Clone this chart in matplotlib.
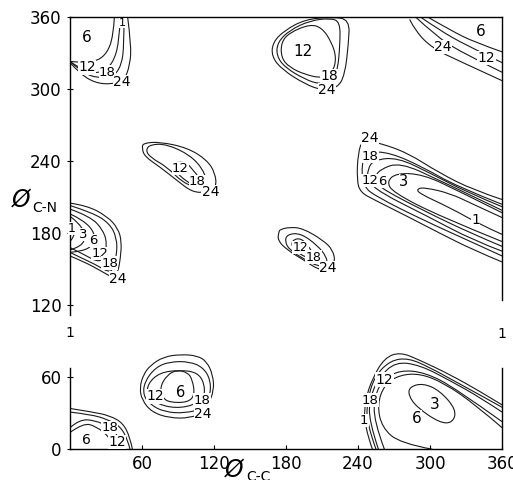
import numpy as np
import matplotlib.pyplot as plt
from matplotlib.path import Path
from matplotlib.patches import PathPatch

# contour lines, points are (phi C-C, phi C-N) in degrees
# top left corner
tl_6 = [(37,360),(36,344),(31,330),(22,323),(11,322),(0,323)]
tl_12 = [(42,360),(41,341),(37,324),(29,315),(18,313),(7,318),(0,323)]
tl_18 = [(45,360),(45,337),(43,320),(36,310),(23,309),(10,314),(0,323)]
tl_24 = [(48,360),(51,337),(50,320),(45,307),(35,304),(21,305),(8,313),(0,322)]

# top middle
tm_12 = [(200,354),(183,347),(176,339),(176,326),(183,318),(196,312),(210,309),(219,314),(222,326),(218,339),(210,351),(200,354)]
tm_18 = [(225,356),(225,337),(223,316),(219,306),(208,304),(196,308),(179,318),(172,328),(173,339),(183,349),(200,357),(217,359),(225,356)]
tm_24 = [(233,358),(232,337),(229,312),(223,301),(210,299),(196,304),(177,316),(168,327),(169,339),(179,349),(196,358),(218,360),(233,358)]

# top right corner
tr_6 = [(298,360),(317,349),(337,339),(360,331)]
tr_12 = [(292,360),(308,349),(329,337),(360,322)]
tr_18 = [(288,360),(304,345),(325,331),(360,314)]
tr_24 = [(283,358),(288,348),(302,334),(325,323),(360,307)]

# left edge, around (0, 180)
le_1 = [(0,189),(4,184),(4,178),(0,173)]
le_3 = [(0,194),(8,188),(13,178),(10,169),(0,166)]
le_6 = [(0,196),(11,191),(21,180),(19,170),(11,165),(0,164)]
le_12 = [(0,200),(17,194),(28,182),(31,170),(28,159),(23,156),(12,162),(0,168)]
le_18 = [(0,203),(19,197),(33,188),(39,176),(39,162),(36,151),(33,147),(21,154),(8,160),(0,164)]
le_24 = [(0,205),(14,203),(31,194),(40,184),(43,173),(42,159),(40,148),(37,142),(25,149),(12,156),(0,161)]

# island near (100, 235)
ml_12 = [(87,239),(97,239),(102,233),(108,226),(108,219),(102,220),(92,227),(86,234),(87,239)]
ml_18 = [(67,254),(81,254),(100,245),(111,233),(114,222),(106,218),(94,222),(81,235),(67,243),(63,249),(67,254)]
ml_24 = [(61,255),(75,256),(98,251),(114,241),(121,230),(122,218),(114,214),(102,214),(89,224),(75,235),(62,244),(60,251),(61,255)]

# island near (195, 165)
mc_12 = [(185,174),(192,176),(198,170),(202,164),(200,159),(192,162),(185,168),(185,174)]
mc_18 = [(181,179),(192,180),(206,170),(214,160),(214,154),(207,152),(194,159),(183,166),(179,173),(181,179)]
mc_24 = [(175,183),(183,185),(194,184),(211,174),(219,166),(221,156),(217,149),(208,149),(194,158),(181,166),(173,174),(174,181),(175,183)]

# long valley on the right
rv_1 = [(360,193),(336,204),(317,213),(296,218),(289,217),(291,213),(317,201),(342,187),(360,179)]
rv_3 = [(360,197),(322,216),(294,229),(272,230),(264,223),(269,214),(308,194),(360,173)]
rv_6 = [(360,199),(308,224),(275,239),(258,233),(254,226),(256,219),(294,199),(336,179),(360,169)]
rv_12 = [(360,202),(331,214),(300,230),(273,243),(253,241),(248,233),(248,224),(258,214),(298,194),(336,174),(360,165)]
rv_18 = [(360,204),(322,219),(294,235),(267,247),(248,248),(243,239),(244,219),(256,210),(294,191),(336,172),(360,161)]
rv_24 = [(360,208),(336,216),(308,230),(281,247),(258,255),(244,258),(240,247),(239,224),(242,214),(253,208),(281,194),(308,180),(336,166),(360,156)]

# bottom left corner
bl_6 = [(0,14),(11,22),(22,19),(33,10),(40,0)]
bl_12 = [(0,18),(8,25),(21,24),(32,19),(39,14),(44,0)]
bl_18 = [(0,31),(17,29),(31,25),(42,19),(48,8),(50,0)]
bl_24 = [(0,34),(19,31),(33,28),(44,22),(50,10),(52,0)]

# island near (90, 50)
bm_6 = [(81,62),(89,66),(98,64),(102,58),(104,45),(98,39),(83,39),(77,43),(75,52),(81,62)]
bm_12 = [(75,64),(92,66),(106,64),(112,55),(112,43),(104,37),(88,34),(72,38),(64,45),(65,55),(75,64)]
bm_18 = [(71,68),(83,73),(100,73),(111,68),(117,58),(117,45),(111,34),(96,30),(79,31),(67,37),(61,45),(62,56),(71,68)]
bm_24 = [(67,70),(78,77),(92,79),(106,78),(114,73),(119,62),(120,49),(115,37),(112,31),(100,26),(83,26),(68,31),(60,41),(58,51),(61,62),(67,70)]

# bottom right
br_3 = [(283,52),(294,55),(308,49),(322,33),(319,22),(308,22),(289,35),(282,45),(283,52)]
br_6 = [(302,0),(275,5),(260,18),(256,37),(262,54),(275,62),(292,63),(312,55),(338,37),(360,18)]
br_12 = [(262,0),(253,24),(254,45),(261,58),(275,66),(296,64),(321,51),(360,23)]
br_18 = [(257,0),(249,24),(250,43),(257,59),(271,73),(292,70),(317,57),(342,43),(360,31)]
br_24 = [(255,0),(247,22),(248,42),(254,61),(267,74),(282,76),(300,68),(320,57),(342,45),(360,35)]
br_1 = [(252,0),(245,20),(246,41),(252,59),(262,76),(275,81),(292,74),(317,62),(342,48),(360,37)]

lines = [tl_6, tl_12, tl_18, tl_24, tm_12, tm_18, tm_24, tr_6, tr_12, tr_18, tr_24,
         le_1, le_3, le_6, le_12, le_18, le_24, ml_12, ml_18, ml_24, mc_12, mc_18, mc_24,
         rv_1, rv_3, rv_6, rv_12, rv_18, rv_24, bl_6, bl_12, bl_18, bl_24,
         bm_6, bm_12, bm_18, bm_24, br_3, br_6, br_12, br_18, br_24, br_1]

# contour labels
lab_txt = ["6", "12", "18", "24", "1",
           "12", "18", "24",
           "6", "24", "12",
           "1", "3", "6", "12", "18", "24",
           "12", "18", "24",
           "12", "18", "24",
           "24", "18", "12", "6", "3", "1",
           "6", "18", "12",
           "12", "6", "18", "24",
           "3", "6", "12", "18", "1",
           "1", "1"]
lab_x = [14, 14, 31, 43, 44,
         194, 216, 214,
         342, 311, 347,
         1.5, 11, 19, 25, 33, 40,
         92, 106, 117,
         192, 203, 215,
         250, 250, 250, 260, 278, 338,
         14, 33, 39,
         71, 92, 110, 111,
         304, 289, 262, 250, 245,
         0, 360]
lab_y = [343, 318, 314, 306, 355,
         331, 311, 299,
         348, 335, 326,
         184, 179, 174, 163, 155, 142,
         234, 223, 214,
         168, 160, 151,
         259, 244, 224, 223, 223, 191,
         8, 18, 6,
         44, 47, 41, 29,
         37, 26, 58, 41, 24,
         97, 96]
lab_size = [11, 10, 9.5, 10, 8,
            11, 10, 10,
            11, 10, 10,
            9, 9.5, 9.5, 9.5, 9.5, 10,
            9.5, 9.5, 10,
            9, 9, 10,
            10, 9.5, 9.5, 9.5, 10.5, 10,
            10, 9.5, 10,
            10, 10.5, 9.5, 10,
            11, 11, 10, 9.5, 9.5,
            10, 10]

x_ticks = [60, 120, 180, 240, 300, 360]
y_ticks = [0, 60, 120, 180, 240, 300, 360]


def smooth(pts):
    # quadratic bezier through the midpoints, the read points act as control points
    p = np.array(pts, float)
    if np.allclose(p[0], p[-1]):
        p = p[:-1]
        mid = (p + np.roll(p, -1, axis=0)) / 2
        verts = [mid[-1]]
        codes = [Path.MOVETO]
        for a, m in zip(p, mid):
            verts += [a, m]
            codes += [Path.CURVE3, Path.CURVE3]
    else:
        verts = [p[0]]
        codes = [Path.MOVETO]
        for i in range(1, len(p) - 1):
            end = p[i + 1] if i == len(p) - 2 else (p[i] + p[i + 1]) / 2
            verts += [p[i], end]
            codes += [Path.CURVE3, Path.CURVE3]
        if len(p) == 2:
            verts.append(p[1])
            codes.append(Path.LINETO)
    return Path(verts, codes)


fig = plt.figure(figsize=(5.13, 4.8), dpi=100)
ax = fig.add_axes([0.1365, 0.064, 0.8421, 0.9006])

for c in lines:
    ax.add_patch(PathPatch(smooth(c), fc='none', ec='#1a1a1a', lw=0.8))

for t, x, y, s in zip(lab_txt, lab_x, lab_y, lab_size):
    ax.text(x, y, t, fontsize=s, ha='center', va='center', zorder=5, clip_on=False,
            bbox=dict(fc='white', ec='none', pad=0.2))

ax.set_xlim(0, 360)
ax.set_ylim(0, 360)
ax.set_xticks(x_ticks)
ax.set_yticks(y_ticks)
ax.tick_params(axis='x', direction='in', length=3, labelsize=12, pad=4)
ax.tick_params(axis='y', direction='inout', length=4, labelsize=12, pad=4)

for s in ax.spines.values():
    s.set_linewidth(1.0)
ax.spines['left'].set_bounds(112, 360)
ax.spines['right'].set_bounds(124, 360)
ax.axvline(0, 0, 68 / 360, color='black', lw=1.0, clip_on=False)
ax.axvline(360, 0, 68 / 360, color='black', lw=1.0, clip_on=False)

fig.text(0.041, 0.585, "Ø", fontsize=17, ha='center', va='center', style='italic')
fig.text(0.088, 0.566, "C-N", fontsize=10, ha='center', va='center')
fig.text(0.456, 0.022, "Ø", fontsize=17, ha='center', va='center', style='italic')
fig.text(0.503, 0.006, "C-C", fontsize=10, ha='center', va='center')

fig.savefig("out.png", dpi=100)
